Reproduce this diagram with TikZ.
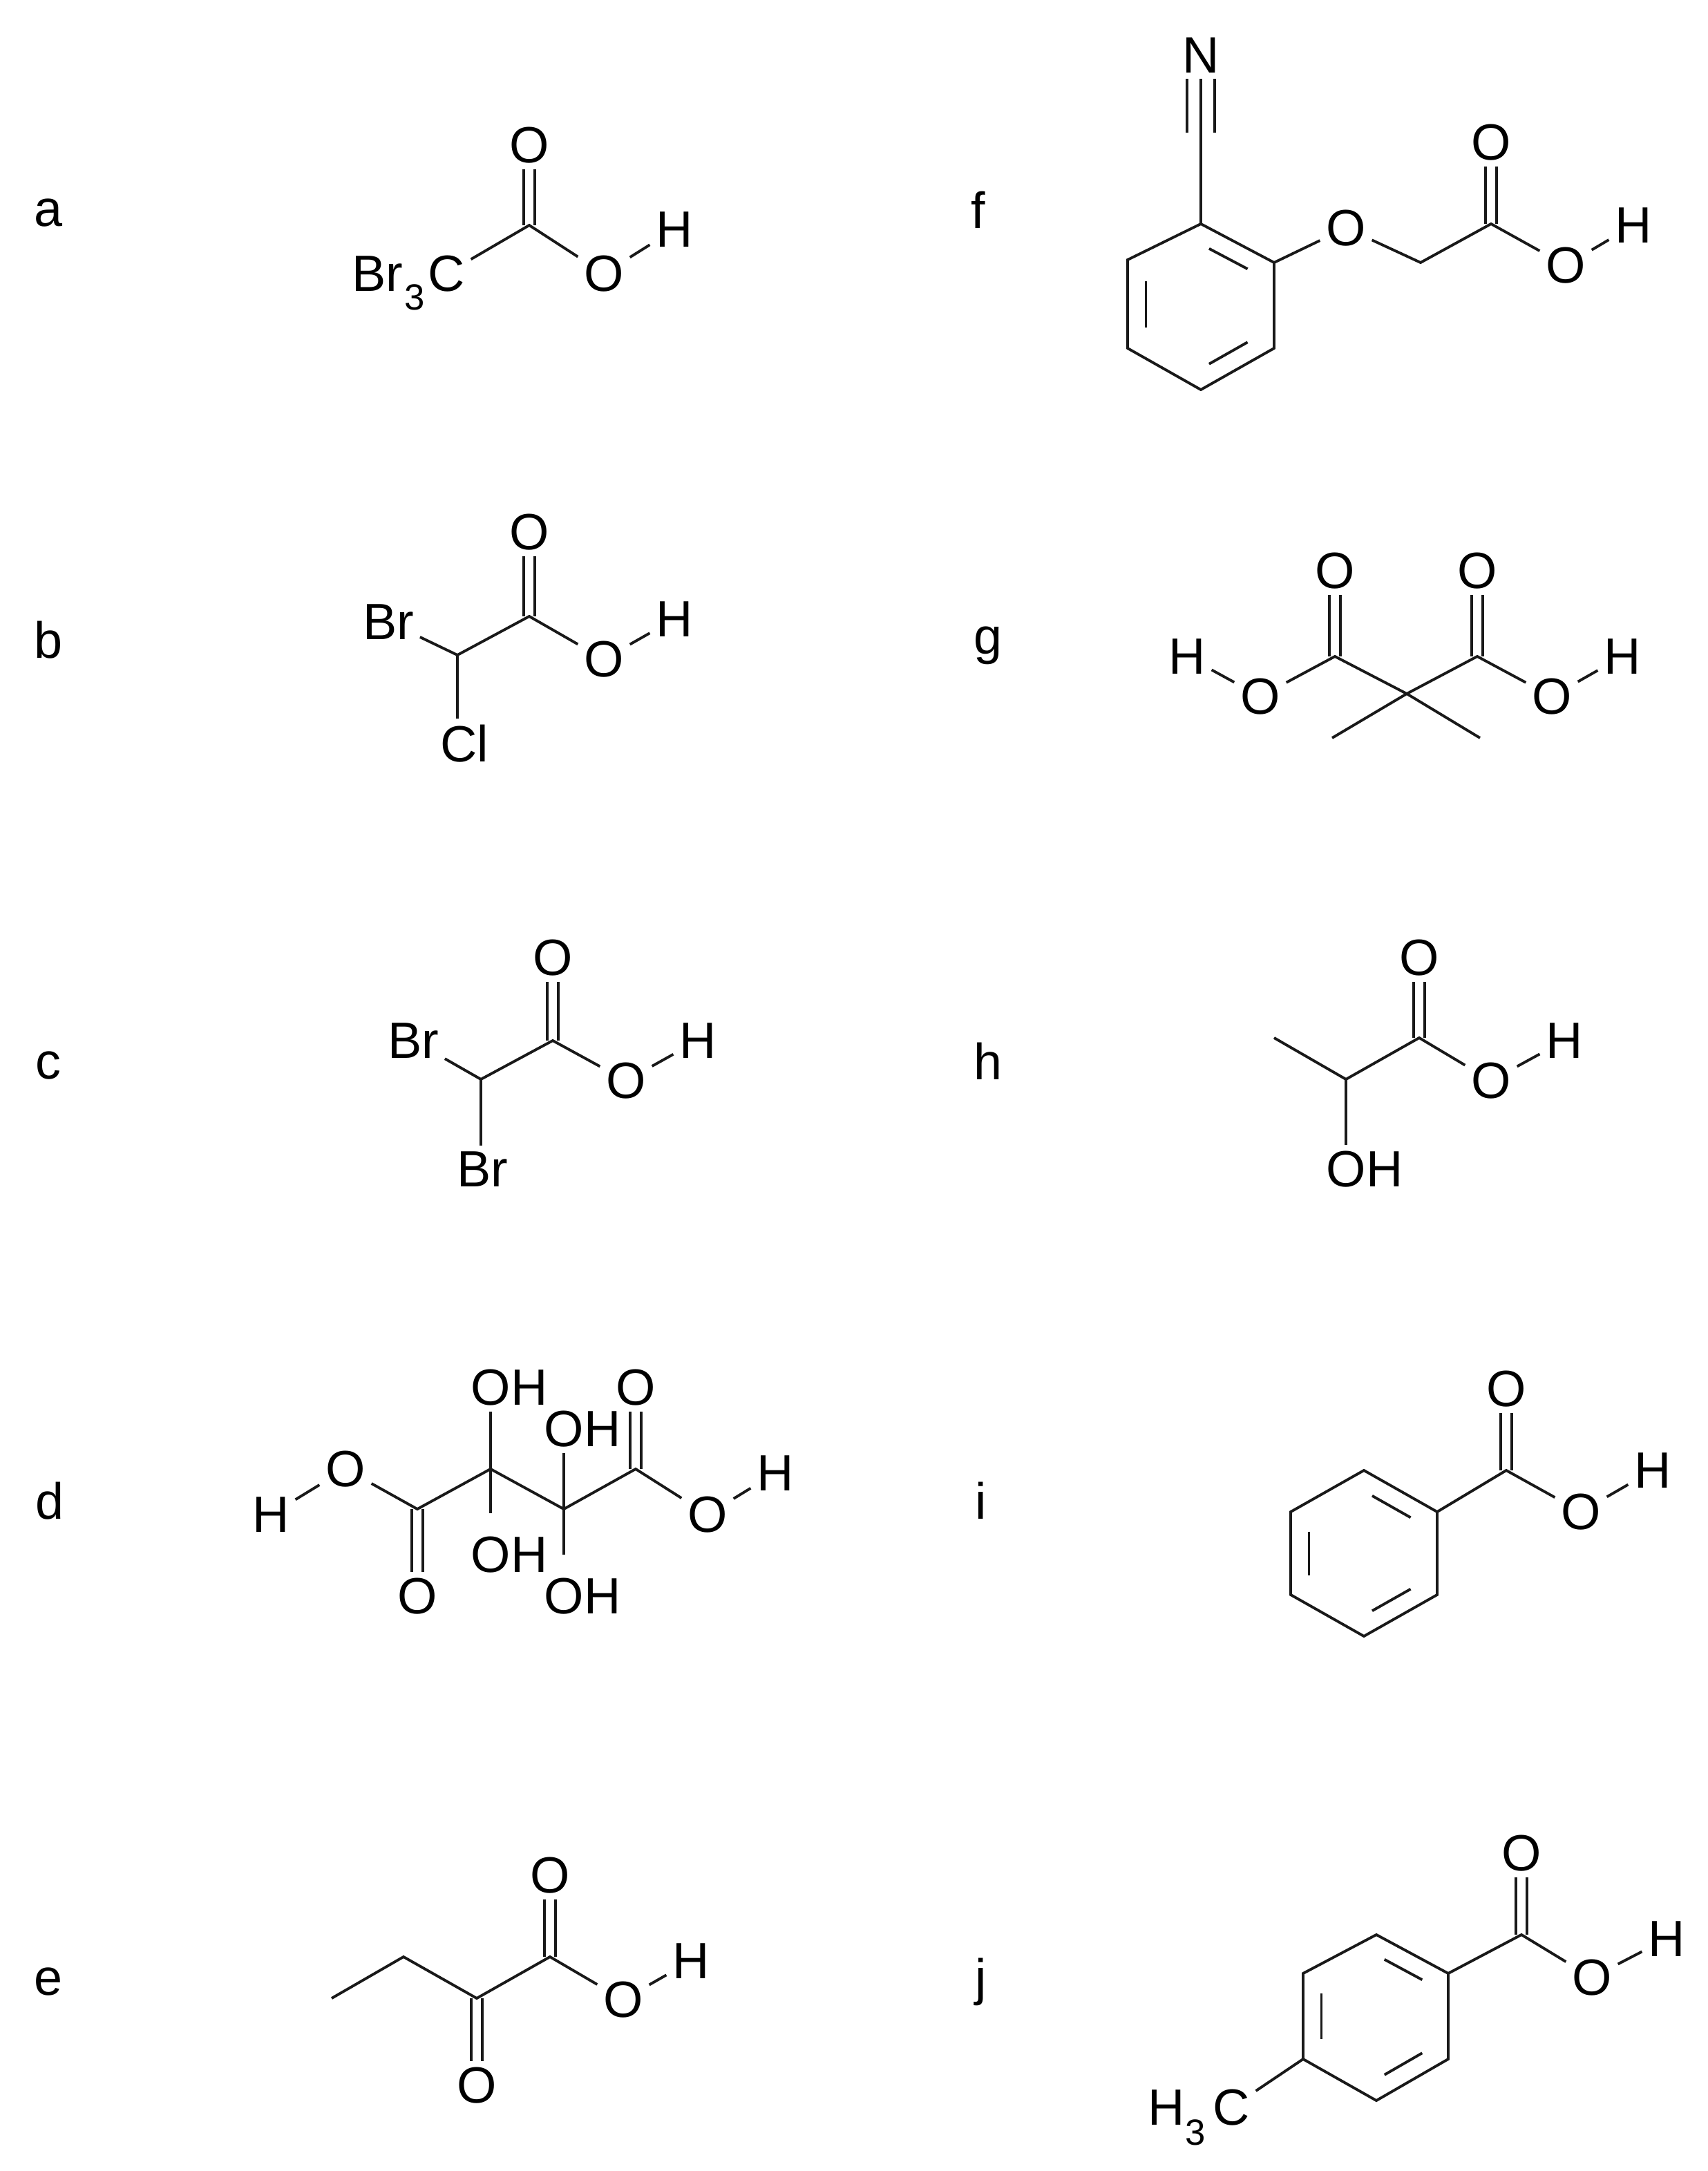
\documentclass[tikz,border=0pt]{standalone}
\usepackage{fontspec}
\setmainfont{Liberation Sans}
\usetikzlibrary{calc}
\begin{document}
\begin{tikzpicture}[x=0.02cm,y=-0.02cm,
  atom/.style={font=\fontsize{21}{25}\selectfont,inner sep=2pt},
  sub/.style={font=\fontsize{15}{18}\selectfont,inner sep=0pt},
  lbl/.style={font=\fontsize{21}{25}\selectfont,inner sep=0pt},
  bond/.style={line width=1.1pt,black!90},
  every path/.style={line width=1.1pt}]
\useasboundingbox (0,0) rectangle (1235.5,1571);
\tikzset{inner/.style={bond}}
% ===== a
\node[lbl] (la) at (35,154) {a};
\node[atom] (aBr) at (273,198) {Br};
\node[sub] (a3) at (300,215) {3};
\node[atom] (aC) at (323,198) {C};
\coordinate (aC1) at (383,163);
\node[atom] (aO1) at (383,105) {O};
\node[atom] (aO2) at (437,198) {O};
\node[atom] (aH) at (488,166) {H};
\draw[bond] (aC) -- (aC1) -- (aO2) -- (aH);
\draw[bond] ($(aC1)+(-4,0)$) -- ($(aO1.south)+(-4,0)$) ($(aC1)+(4,0)$) -- ($(aO1.south)+(4,0)$);
% ===== b
\node[lbl] (lb) at (35,463) {b};
\node[atom] (bBr) at (281,450) {Br};
\coordinate (bC0) at (331,474);
\node[atom] (bCl) at (336,538) {Cl};
\coordinate (bC1) at (383,446);
\node[atom] (bO1) at (383,385) {O};
\node[atom] (bO2) at (437,477) {O};
\node[atom] (bH) at (488,448) {H};
\draw[bond] (bBr) -- (bC0) -- (bC1) -- (bO2) -- (bH);
\draw[bond] (bC0) -- (bC0 |- bCl.north);
\draw[bond] ($(bC1)+(-4,0)$) -- ($(bO1.south)+(-4,0)$) ($(bC1)+(4,0)$) -- ($(bO1.south)+(4,0)$);
% ===== c
\node[lbl] (lc) at (35,771) {c};
\node[atom] (cBr1) at (299,753) {Br};
\coordinate (cC0) at (348,781);
\node[atom] (cBr2) at (349,846) {Br};
\coordinate (cC1) at (400,753);
\node[atom] (cO1) at (400,693) {O};
\node[atom] (cO2) at (453,782) {O};
\node[atom] (cH) at (505,753) {H};
\draw[bond] (cBr1) -- (cC0) -- (cC1) -- (cO2) -- (cH);
\draw[bond] (cC0) -- (cC0 |- cBr2.north);
\draw[bond] ($(cC1)+(-4,0)$) -- ($(cO1.south)+(-4,0)$) ($(cC1)+(4,0)$) -- ($(cO1.south)+(4,0)$);
% ===== d
\node[lbl] (ld) at (36,1086) {d};
\node[atom] (dH1) at (196,1096) {H};
\node[atom] (dO1) at (250,1063) {O};
\coordinate (dC1) at (302,1092);
\node[atom] (dO2) at (302,1155) {O};
\coordinate (dC2) at (355,1063);
\node[atom] (dO3) at (355,1004) {O};
\node[atom] (dH3) at (383,1004) {H};
\node[atom] (dO4) at (355,1125) {O};
\node[atom] (dH4) at (383,1125) {H};
\coordinate (dC3) at (408,1092);
\node[atom] (dO5) at (408,1034) {O};
\node[atom] (dH5) at (436,1034) {H};
\node[atom] (dO6) at (408,1155) {O};
\node[atom] (dH6) at (436,1155) {H};
\coordinate (dC4) at (460,1063);
\node[atom] (dO7) at (460,1004) {O};
\node[atom] (dO8) at (512,1096) {O};
\node[atom] (dH8) at (561,1066) {H};
\draw[bond] (dH1) -- (dO1) -- (dC1) -- (dC2) -- (dC3) -- (dC4) -- (dO8) -- (dH8);
\coordinate (dt2) at (355,1095);
\coordinate (dt3) at (408,1125);
\draw[bond] (dO3) -- (dt2);
\draw[bond] (dO5) -- (dt3);
\draw[bond] ($(dC1)+(-4,0)$) -- ($(dO2.north)+(-4,0)$) ($(dC1)+(4,0)$) -- ($(dO2.north)+(4,0)$);
\draw[bond] ($(dC4)+(-4,0)$) -- ($(dO7.south)+(-4,0)$) ($(dC4)+(4,0)$) -- ($(dO7.south)+(4,0)$);
% ===== e
\node[lbl] (le) at (35,1434) {e};
\coordinate (eC0) at (240,1446);
\coordinate (eC1) at (292,1416);
\coordinate (eC2) at (345,1446);
\node[atom] (eO0) at (345,1509) {O};
\coordinate (eC3) at (398,1416);
\node[atom] (eO1) at (398,1357) {O};
\node[atom] (eO2) at (451,1447) {O};
\node[atom] (eH) at (500,1419) {H};
\draw[bond] (eC0) -- (eC1) -- (eC2) -- (eC3) -- (eO2) -- (eH);
\draw[bond] ($(eC2)+(-4,0)$) -- ($(eO0.north)+(-4,0)$) ($(eC2)+(4,0)$) -- ($(eO0.north)+(4,0)$);
\draw[bond] ($(eC3)+(-4,0)$) -- ($(eO1.south)+(-4,0)$) ($(eC3)+(4,0)$) -- ($(eO1.south)+(4,0)$);
% ===== f
\node[lbl] (lf) at (708,152) {f};
\node[atom] (fN) at (869,40) {N};
\coordinate (fCN) at (869,96);
\coordinate (ft) at (869,162);
\coordinate (fur) at (922,190);
\coordinate (flr) at (922,252);
\coordinate (fb) at (869,282);
\coordinate (fll) at (816,252);
\coordinate (ful) at (816,188);
\coordinate (fc) at (869,221);
\node[atom] (fO) at (974,165) {O};
\coordinate (fCH) at (1028,190);
\coordinate (fC1) at (1079,162);
\node[atom] (fO1) at (1079,103) {O};
\node[atom] (fO2) at (1133,192) {O};
\node[atom] (fH) at (1182,163) {H};
\draw[bond] (ft) -- (fur) -- (flr) -- (fb) -- (fll) -- (ful) -- cycle;
\draw[bond] (ft) -- (fCN);
\draw[bond] (fCN) -- (fN.south) ($(fCN)+(-10,0)$) -- ($(fN.south)+(-10,0)$) ($(fCN)+(10,0)$) -- ($(fN.south)+(10,0)$);
\draw[bond] (fur) -- (fO) -- (fCH) -- (fC1) -- (fO2) -- (fH);
\draw[bond] ($(fC1)+(-4,0)$) -- ($(fO1.south)+(-4,0)$) ($(fC1)+(4,0)$) -- ($(fO1.south)+(4,0)$);
\foreach \p/\q in {ft/fur,ful/fll,fb/flr}
  \draw[bond] ($($(\p)!0.15!(\q)$)!0.25!(fc)$) -- ($($(\p)!0.85!(\q)$)!0.25!(fc)$);
% ===== g
\node[lbl] (lg) at (715,467) {g};
\node[atom] (gH1) at (859,475) {H};
\node[atom] (gO1) at (912,504) {O};
\coordinate (gC1) at (966,475);
\node[atom] (gO2) at (966,413) {O};
\coordinate (gC0) at (1018,502);
\coordinate (gM1) at (964,534);
\coordinate (gM2) at (1071,534);
\coordinate (gC2) at (1069,475);
\node[atom] (gO3) at (1069,413) {O};
\node[atom] (gO4) at (1123,504) {O};
\node[atom] (gH2) at (1174,475) {H};
\draw[bond] (gH1) -- (gO1) -- (gC1) -- (gC0) -- (gC2) -- (gO4) -- (gH2);
\draw[bond] (gM1) -- (gC0) -- (gM2);
\draw[bond] ($(gC1)+(-4,0)$) -- ($(gO2.south)+(-4,0)$) ($(gC1)+(4,0)$) -- ($(gO2.south)+(4,0)$);
\draw[bond] ($(gC2)+(-4,0)$) -- ($(gO3.south)+(-4,0)$) ($(gC2)+(4,0)$) -- ($(gO3.south)+(4,0)$);
% ===== h
\node[lbl] (lh) at (715,768) {h};
\coordinate (hM) at (922,751);
\coordinate (hC0) at (974,781);
\node[atom] (hO0) at (974,846) {O};
\node[atom] (hH0) at (1002,846) {H};
\coordinate (hC1) at (1027,751);
\node[atom] (hO1) at (1027,693) {O};
\node[atom] (hO2) at (1079,782) {O};
\node[atom] (hH) at (1132,753) {H};
\draw[bond] (hM) -- (hC0) -- (hC1) -- (hO2) -- (hH);
\draw[bond] (hC0) -- (hO0);
\draw[bond] ($(hC1)+(-4,0)$) -- ($(hO1.south)+(-4,0)$) ($(hC1)+(4,0)$) -- ($(hO1.south)+(4,0)$);
% ===== i
\node[lbl] (li) at (710,1086) {i};
\coordinate (it) at (987,1064);
\coordinate (iur) at (1040,1094);
\coordinate (ilr) at (1040,1154);
\coordinate (ib) at (987,1184);
\coordinate (ill) at (934,1154);
\coordinate (iul) at (934,1094);
\coordinate (ic) at (987,1124);
\coordinate (iC1) at (1090,1064);
\node[atom] (iO1) at (1090,1005) {O};
\node[atom] (iO2) at (1144,1094) {O};
\node[atom] (iH) at (1196,1064) {H};
\draw[bond] (it) -- (iur) -- (ilr) -- (ib) -- (ill) -- (iul) -- cycle;
\draw[bond] (iur) -- (iC1) -- (iO2) -- (iH);
\draw[bond] ($(iC1)+(-4,0)$) -- ($(iO1.south)+(-4,0)$) ($(iC1)+(4,0)$) -- ($(iO1.south)+(4,0)$);
\foreach \p/\q in {it/iur,iul/ill,ib/ilr}
  \draw[bond] ($($(\p)!0.15!(\q)$)!0.25!(ic)$) -- ($($(\p)!0.85!(\q)$)!0.25!(ic)$);
% ===== j
\node[lbl] (lj) at (710,1434) {j};
\coordinate (jt) at (996,1400);
\coordinate (jur) at (1048,1428);
\coordinate (jlr) at (1048,1490);
\coordinate (jb) at (996,1520);
\coordinate (jll) at (943,1490);
\coordinate (jul) at (943,1428);
\coordinate (jc) at (996,1459);
\coordinate (jC1) at (1101,1400);
\node[atom] (jO1) at (1101,1341) {O};
\node[atom] (jO2) at (1152,1431) {O};
\node[atom] (jH) at (1206,1403) {H};
\node[atom] (jHm) at (844,1525) {H};
\node[sub] (j3) at (865,1543) {3};
\node[atom] (jCm) at (891,1525) {C};
\draw[bond] (jt) -- (jur) -- (jlr) -- (jb) -- (jll) -- (jul) -- cycle;
\draw[bond] (jur) -- (jC1) -- (jO2) -- (jH);
\draw[bond] (jCm) -- (jll);
\draw[bond] ($(jC1)+(-4,0)$) -- ($(jO1.south)+(-4,0)$) ($(jC1)+(4,0)$) -- ($(jO1.south)+(4,0)$);
\foreach \p/\q in {jt/jur,jul/jll,jb/jlr}
  \draw[bond] ($($(\p)!0.15!(\q)$)!0.25!(jc)$) -- ($($(\p)!0.85!(\q)$)!0.25!(jc)$);
\end{tikzpicture}
\end{document}
